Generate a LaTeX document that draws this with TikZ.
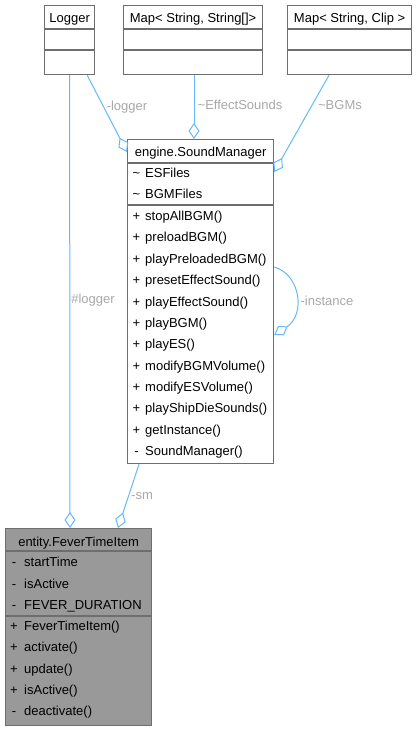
\documentclass[tikz,border=0pt]{standalone}
\usepackage{fontspec}
\setmainfont{Liberation Sans}
\usetikzlibrary{arrows.meta,calc,positioning}
\definecolor{edgeblue}{HTML}{63B8FF}
\definecolor{labelgray}{HTML}{A8A8A8}
\definecolor{boxline}{HTML}{6E6E6E}
\definecolor{boxfill}{HTML}{999999}

\begin{document}
\begin{tikzpicture}[x=1bp,y=-1bp,font=\fontsize{13bp}{15bp}\selectfont,
  classbox/.style={draw=boxline,line width=1.2bp,fill=white,inner sep=0pt,anchor=north west},
  sep/.style={draw=boxline,line width=1.2bp},
  title/.style={anchor=base,inner sep=0pt},
  sym/.style={anchor=base,inner sep=0pt},
  row/.style={anchor=base west,inner sep=0pt},
  assoc/.style={draw=edgeblue,line width=1bp,-{Diamond[open,length=16bp,width=11bp]}},
  lbl/.style={text=labelgray,inner sep=0pt}]
\useasboundingbox (0,0) rectangle (417,731);
% classes
\node[classbox,minimum width=50bp,minimum height=69bp] (logger) at (44,5) {};
\node[classbox,minimum width=139bp,minimum height=69bp] (esmap) at (123,5) {};
\node[classbox,minimum width=124bp,minimum height=69bp] (bgmmap) at (287,5) {};
\node[classbox,minimum width=146bp,minimum height=324bp] (soundmgr) at (127,139) {};
\node[classbox,minimum width=146bp,minimum height=197bp,fill=boxfill] (fever) at (5,528) {};
\foreach \c in {logger,esmap,bgmmap} {
  \draw[sep] ($(\c.north west)+(0,24)$) -- ($(\c.north east)+(0,24)$);
  \draw[sep] ($(\c.north west)+(0,45)$) -- ($(\c.north east)+(0,45)$);
}
\draw[sep] ($(soundmgr.north west)+(0,24)$) -- ($(soundmgr.north east)+(0,24)$);
\draw[sep] ($(soundmgr.north west)+(0,66)$) -- ($(soundmgr.north east)+(0,66)$);
\draw[sep] ($(fever.north west)+(0,23)$) -- ($(fever.north east)+(0,23)$);
\draw[sep] ($(fever.north west)+(0,88)$) -- ($(fever.north east)+(0,88)$);
% titles
\node[title] (loggertitle) at ($(logger.north)+(0,18)$) {Logger};
\node[title] (esmaptitle) at ($(esmap.north)+(0,18)$) {Map< String, String[]>};
\node[title] (bgmmaptitle) at ($(bgmmap.north)+(0,18)$) {Map< String, Clip >};
\node[title] (smtitle) at ($(soundmgr.north)+(0,17.5)$) {engine.SoundManager};
\node[title] (fevertitle) at ($(fever.north)+(0,18.5)$) {entity.FeverTimeItem};
% members
\foreach \t [count=\i from 0] in {ESFiles,BGMFiles} {
  \node[sym] (smattrsym\i) at (136.5,177.6+21.3*\i) {\textasciitilde};
  \node[row] (smattr\i) at (145,177.6+21.3*\i) {\t};
}
\foreach \s/\t [count=\i from 0] in {+/stopAllBGM(),+/preloadBGM(),+/playPreloadedBGM(),
    +/presetEffectSound(),+/playEffectSound(),+/playBGM(),+/playES(),+/modifyBGMVolume(),
    +/modifyESVolume(),+/playShipDieSounds(),+/getInstance(),-/SoundManager()} {
  \node[sym] (smopsym\i) at (136.5,220.6+21.36*\i) {\s};
  \node[row] (smop\i) at (145,220.6+21.36*\i) {\t};
}
\foreach \t [count=\i from 0] in {startTime,isActive,FEVER\_DURATION} {
  \node[sym] (fvattrsym\i) at (14,566.8+21.4*\i) {-};
  \node[row] (fvattr\i) at (24,566.8+21.4*\i) {\t};
}
\foreach \s/\t [count=\i from 0] in {+/FeverTimeItem(),+/activate(),+/update(),+/isActive(),-/deactivate()} {
  \node[sym] (fvopsym\i) at (14,630.6+21.3*\i) {\s};
  \node[row] (fvop\i) at (24,630.6+21.3*\i) {\t};
}
% relations
\draw[assoc] (logger.south) -- ($(fever.north west)+(65,0)$);
\draw[assoc] ($(logger.south east)+(-8,0)$) -- ($(soundmgr.north west)+(0,13)$);
\draw[assoc] ($(esmap.south west)+(71,0)$) -- ($(soundmgr.north west)+(67,0)$);
\draw[assoc] ($(bgmmap.south west)+(42,0)$) -- ($(soundmgr.north east)+(0,33)$);
\draw[assoc] ($(soundmgr.north east)+(0,128)$) .. controls ($(soundmgr.north east)+(27,136)$)
  and ($(soundmgr.north east)+(31,176)$) .. ($(soundmgr.north east)+(0,196)$);
\draw[assoc] ($(soundmgr.south west)+(12,0)$) -- ($(fever.north west)+(113,0)$);
\node[lbl] (lbllogger) at (93,300) {\#logger};
\node[lbl] (lblsmlogger) at (127,107) {-logger};
\node[lbl] (lbleffect) at (240,105) {\textasciitilde EffectSounds};
\node[lbl] (lblbgms) at (340,105) {\textasciitilde BGMs};
\node[lbl] (lblinstance) at (327,301) {-instance};
\node[lbl] (lblsm) at (142,496) {-sm};
\end{tikzpicture}
\end{document}
